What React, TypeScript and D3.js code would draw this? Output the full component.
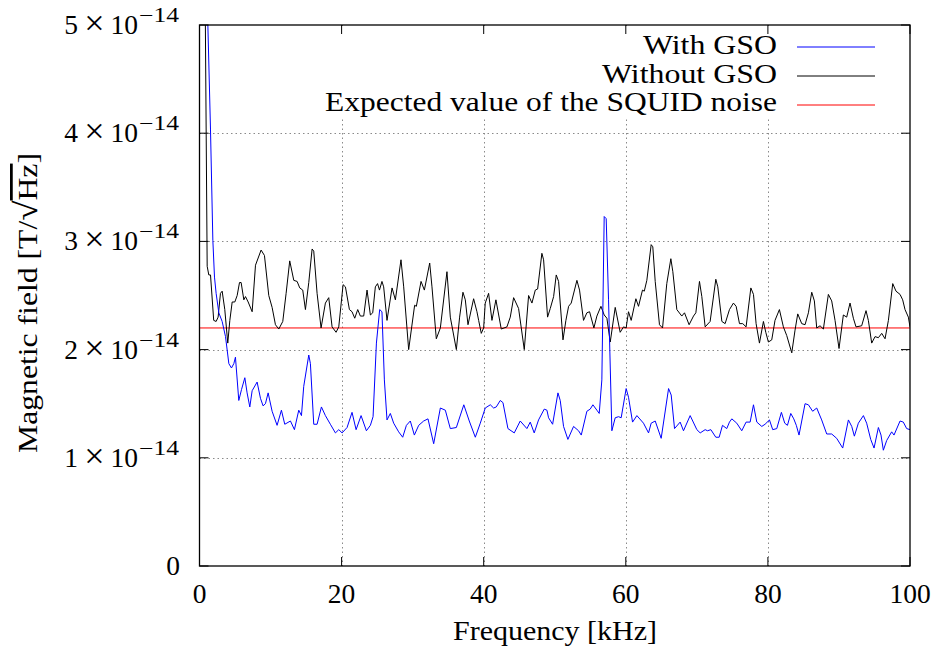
import React from "react";
import * as d3 from "d3";

const freqWith = [0.6, 1.1, 1.55, 1.88, 2.11, 2.34, 2.72, 3.19, 3.66, 4.13, 4.5, 4.83, 5.06, 5.53, 5.91, 6.38, 6.7, 7.08, 7.41, 8.11, 8.58, 8.95, 9.28, 9.66, 10.22, 10.92, 11.53, 12.0, 12.8, 13.36, 13.97, 14.35, 14.67, 15.38, 15.61, 16.08, 16.55, 17.16, 17.72, 18.42, 19.13, 19.6, 20.07, 20.77, 21.47, 22.04, 22.74, 23.49, 24.05, 24.43, 24.9, 25.36, 25.68, 26.02, 26.39, 26.86, 27.33, 28.03, 28.6, 29.12, 29.67, 30.24, 30.85, 31.55, 32.16, 32.96, 33.9, 34.6, 35.3, 36.15, 37.2, 37.97, 38.82, 39.52, 40.22, 40.93, 41.4, 41.77, 42.33, 42.71, 43.41, 44.3, 45.14, 46.08, 46.55, 47.11, 47.72, 48.52, 48.9, 49.13, 49.7, 50.45, 50.77, 51.24, 51.85, 52.65, 53.35, 53.73, 54.52, 54.99, 55.37, 55.93, 56.26, 56.63, 56.96, 57.24, 57.57, 58.04, 58.51, 58.98, 59.35, 60.05, 60.38, 60.95, 61.56, 62.49, 63.2, 63.57, 64.14, 64.98, 66.02, 66.39, 66.86, 67.65, 68.12, 69.06, 70.0, 70.47, 71.17, 71.5, 71.97, 72.67, 73.14, 73.61, 74.21, 74.59, 74.92, 75.62, 76.32, 76.93, 77.5, 77.97, 78.44, 79.14, 79.6, 80.22, 80.68, 81.25, 81.9, 82.37, 82.75, 83.22, 83.64, 84.0, 84.38, 85.23, 85.7, 86.3, 86.87, 87.57, 88.28, 88.98, 89.68, 90.53, 91.33, 91.8, 92.17, 92.73, 93.44, 93.9, 94.47, 94.94, 95.55, 95.92, 96.25, 96.72, 97.42, 97.75, 98.6, 99.06, 99.53, 100];
const valWith = [9.0, 5.2, 4.03, 3.01, 2.67, 2.52, 2.34, 2.26, 2.12, 1.87, 1.83, 1.87, 1.93, 1.53, 1.63, 1.74, 1.6, 1.47, 1.62, 1.7, 1.55, 1.48, 1.5, 1.6, 1.43, 1.3, 1.44, 1.31, 1.34, 1.26, 1.44, 1.39, 1.66, 1.95, 1.87, 1.31, 1.31, 1.47, 1.39, 1.31, 1.23, 1.26, 1.23, 1.28, 1.42, 1.26, 1.39, 1.25, 1.3, 1.38, 2.06, 2.37, 2.35, 1.72, 1.35, 1.41, 1.32, 1.24, 1.19, 1.3, 1.34, 1.21, 1.3, 1.34, 1.36, 1.13, 1.46, 1.44, 1.27, 1.28, 1.49, 1.34, 1.19, 1.32, 1.46, 1.49, 1.46, 1.47, 1.53, 1.51, 1.27, 1.23, 1.34, 1.27, 1.33, 1.23, 1.35, 1.45, 1.44, 1.37, 1.31, 1.6, 1.53, 1.29, 1.17, 1.29, 1.25, 1.21, 1.43, 1.45, 1.49, 1.44, 1.41, 1.72, 3.23, 3.21, 2.46, 1.25, 1.37, 1.38, 1.37, 1.64, 1.56, 1.33, 1.39, 1.32, 1.23, 1.32, 1.34, 1.18, 1.64, 1.58, 1.27, 1.33, 1.25, 1.39, 1.26, 1.23, 1.26, 1.25, 1.26, 1.19, 1.19, 1.3, 1.27, 1.33, 1.36, 1.32, 1.25, 1.33, 1.33, 1.49, 1.33, 1.29, 1.31, 1.35, 1.26, 1.27, 1.42, 1.32, 1.3, 1.41, 1.36, 1.3, 1.21, 1.5, 1.49, 1.43, 1.46, 1.35, 1.22, 1.22, 1.18, 1.09, 1.35, 1.29, 1.2, 1.32, 1.39, 1.32, 1.17, 1.09, 1.28, 1.21, 1.07, 1.16, 1.24, 1.21, 1.34, 1.33, 1.27, 1.26];

const freqWithout = [0.6, 1.08, 1.31, 1.55, 2.0, 2.34, 2.62, 2.95, 3.19, 3.56, 3.98, 4.27, 4.6, 4.97, 5.3, 5.63, 5.86, 6.24, 6.47, 6.85, 7.41, 7.88, 8.67, 9.14, 9.75, 10.22, 10.69, 11.16, 11.72, 12.19, 12.7, 13.27, 13.74, 14.11, 14.53, 14.91, 15.38, 15.85, 16.08, 16.55, 17.11, 17.72, 18.19, 18.66, 19.22, 19.6, 20.21, 20.54, 21.1, 21.47, 21.85, 22.27, 22.64, 23.11, 23.58, 24.05, 24.38, 24.75, 25.06, 25.33, 25.68, 25.92, 26.39, 27.1, 27.57, 28.36, 28.74, 29.44, 30.28, 30.52, 31.18, 31.65, 32.4, 32.72, 33.33, 33.9, 34.83, 35.3, 36.15, 36.61, 37.08, 37.41, 37.79, 38.58, 39.05, 39.29, 39.66, 39.99, 40.22, 40.69, 41.16, 41.72, 42.47, 43.27, 43.74, 44.21, 44.91, 45.71, 46.32, 46.79, 47.26, 47.59, 48.19, 48.43, 48.99, 49.37, 49.84, 50.21, 50.54, 51.16, 51.57, 51.95, 52.32, 53.12, 53.49, 54.05, 54.52, 54.9, 55.51, 55.93, 56.5, 56.96, 57.34, 57.81, 58.51, 59.21, 59.68, 60.05, 60.38, 60.76, 61.42, 61.79, 62.35, 62.6, 62.96, 63.57, 63.8, 64.14, 64.74, 65.17, 65.77, 66.34, 66.62, 67.18, 67.88, 68.26, 68.91, 69.53, 69.86, 70.37, 70.7, 71.17, 71.87, 72.67, 72.95, 73.52, 73.98, 74.59, 75.15, 75.53, 76.0, 76.46, 76.93, 77.6, 77.97, 78.34, 78.81, 79.37, 79.7, 80.07, 80.54, 81.0, 81.62, 82.18, 82.65, 83.36, 83.82, 84.2, 84.76, 85.23, 85.7, 86.17, 86.54, 86.87, 87.34, 87.81, 88.51, 88.98, 89.45, 90.01, 90.62, 91.09, 91.56, 92.03, 92.4, 93.2, 93.81, 94.14, 94.61, 95.08, 95.55, 96.02, 96.49, 96.96, 97.57, 98.03, 98.6, 98.97, 99.3, 99.77, 100];
const valWithout = [7.0, 2.77, 2.69, 2.69, 2.27, 2.26, 2.3, 2.52, 2.54, 2.37, 2.06, 2.27, 2.44, 2.44, 2.5, 2.62, 2.62, 2.46, 2.49, 2.44, 2.35, 2.78, 2.92, 2.87, 2.5, 2.39, 2.23, 2.19, 2.26, 2.52, 2.82, 2.64, 2.63, 2.57, 2.55, 2.37, 2.62, 2.93, 2.91, 2.52, 2.2, 2.43, 2.48, 2.21, 2.16, 2.21, 2.6, 2.58, 2.37, 2.35, 2.29, 2.37, 2.31, 2.31, 2.55, 2.32, 2.34, 2.58, 2.61, 2.55, 2.63, 2.58, 2.27, 2.57, 2.46, 2.83, 2.58, 2.0, 2.41, 2.4, 2.63, 2.55, 2.8, 2.58, 2.1, 2.2, 2.72, 2.3, 2.0, 2.3, 2.53, 2.46, 2.23, 2.47, 2.35, 2.27, 2.15, 2.2, 2.43, 2.52, 2.27, 2.46, 2.19, 2.21, 2.3, 2.48, 2.38, 2.0, 2.5, 2.43, 2.55, 2.56, 2.89, 2.83, 2.3, 2.38, 2.49, 2.69, 2.63, 2.09, 2.27, 2.4, 2.43, 2.64, 2.55, 2.27, 2.34, 2.35, 2.2, 2.31, 2.4, 2.32, 2.29, 2.07, 2.39, 2.16, 2.21, 2.2, 2.35, 2.27, 2.47, 2.4, 2.55, 2.54, 2.64, 2.97, 2.95, 2.63, 2.23, 2.2, 2.61, 2.84, 2.72, 2.37, 2.31, 2.34, 2.23, 2.31, 2.34, 2.63, 2.49, 2.21, 2.26, 2.65, 2.58, 2.26, 2.24, 2.37, 2.43, 2.4, 2.24, 2.24, 2.21, 2.57, 2.51, 2.24, 2.06, 2.26, 2.16, 2.07, 2.09, 2.27, 2.37, 2.21, 2.13, 1.97, 2.18, 2.33, 2.24, 2.23, 2.34, 2.53, 2.45, 2.2, 2.22, 2.19, 2.51, 2.45, 2.27, 2.01, 2.32, 2.3, 2.43, 2.29, 2.21, 2.22, 2.36, 2.27, 2.06, 2.12, 2.11, 2.15, 2.1, 2.27, 2.61, 2.54, 2.51, 2.46, 2.37, 2.3, 2.21];

const squidLevel = 2.2;
const xTicks = [0, 20, 40, 60, 80, 100];
const yTicks = [0, 1, 2, 3, 4, 5];
const yTickMantissa = ["0", "1", "2", "3", "4", "5"];
const legendLabels = ["With GSO", "Without GSO", "Expected value of the SQUID noise"];
const legendColors = ["#0000ff", "#000000", "#ff0000"];

const W = 936;
const H = 656;
const L = 199.5, R = 910, T = 25, B = 566;
const FONT = "'Liberation Serif', 'Times New Roman', serif";

export default function App() {
  const x = d3.scaleLinear().domain([0, 100]).range([L, R]);
  const y = d3.scaleLinear().domain([0, 5]).range([B, T]);

  const line = d3
    .line<[number, number]>()
    .x((d) => x(d[0]))
    .y((d) => y(d[1]));

  const withData: [number, number][] = freqWith.map((f, i) => [f, valWith[i]]);
  const withoutData: [number, number][] = freqWithout.map((f, i) => [f, valWithout[i]]);

  const gridColor = "#8a8a8a";
  const tickLen = 9;

  return (
    <svg
      width={W}
      height={H}
      style={{ position: "absolute", left: 0, top: 0, background: "#fff" }}
      fontFamily={FONT}
    >
      <defs>
        <clipPath id="plotClip">
          <rect x={L} y={T} width={R - L} height={B - T} />
        </clipPath>
      </defs>
      <rect x={0} y={0} width={W} height={H} fill="#fff" />

      {/* grid */}
      {yTicks
        .filter((t) => t > 0 && t < 5)
        .map((t) => (
          <line
            key={"gy" + t}
            x1={L}
            x2={R}
            y1={Math.round(y(t)) + 0.5}
            y2={Math.round(y(t)) + 0.5}
            stroke={gridColor}
            strokeWidth={1}
            strokeDasharray="1.5,3"
          />
        ))}
      {xTicks
        .filter((t) => t > 0 && t < 100)
        .map((t) => (
          <line
            key={"gx" + t}
            x1={Math.round(x(t)) + 0.5}
            x2={Math.round(x(t)) + 0.5}
            y1={T}
            y2={B}
            stroke={gridColor}
            strokeWidth={1}
            strokeDasharray="1.5,3"
          />
        ))}

      {/* legend background */}
      <rect x={318} y={T + 1} width={R - 318 - 1} height={118 - T - 1} fill="#fff" />

      {/* data */}
      <g clipPath="url(#plotClip)">
        <line
          x1={L}
          x2={R}
          y1={y(squidLevel)}
          y2={y(squidLevel)}
          stroke="#ff0000"
          strokeWidth={1}
        />
        <path d={line(withoutData) || ""} fill="none" stroke="#000" strokeWidth={1} />
        <path d={line(withData) || ""} fill="none" stroke="#0000ff" strokeWidth={1} />
      </g>

      {/* border */}
      <rect x={L} y={T} width={R - L} height={B - T} fill="none" stroke="#000" strokeWidth={1.3} />

      {/* ticks */}
      {yTicks.map((t) => (
        <g key={"ty" + t}>
          <line x1={L} x2={L + tickLen} y1={y(t)} y2={y(t)} stroke="#000" strokeWidth={1} />
          <line x1={R} x2={R - tickLen} y1={y(t)} y2={y(t)} stroke="#000" strokeWidth={1} />
        </g>
      ))}
      {xTicks.map((t) => (
        <g key={"tx" + t}>
          <line x1={x(t)} x2={x(t)} y1={B} y2={B - tickLen} stroke="#000" strokeWidth={1} />
          <line x1={x(t)} x2={x(t)} y1={T} y2={T + tickLen} stroke="#000" strokeWidth={1} />
        </g>
      ))}

      {/* y tick labels */}
      {yTicks.map((t, i) =>
        t === 0 ? (
          <text key={"yl" + t} x={180} y={y(t) + 9} fontSize={27.5} textAnchor="end">
            {yTickMantissa[i]}
          </text>
        ) : (
          <g key={"yl" + t}>
            <text x={71} y={y(t) + 9} fontSize={27.5} textAnchor="middle">
              {yTickMantissa[i]}
            </text>
            <text x={94.5} y={y(t) + 10} fontSize={36} textAnchor="middle">
              ×
            </text>
            <text x={138} y={y(t) + 9} fontSize={27.5} textAnchor="end">
              10
            </text>
            <text x={139} y={y(t) - 3} fontSize={20} textAnchor="start" textLength={40} lengthAdjust="spacingAndGlyphs">
              −14
            </text>
          </g>
        )
      )}

      {/* x tick labels */}
      {xTicks.map((t) => (
        <text key={"xl" + t} x={x(t)} y={603} fontSize={27.5} textAnchor="middle">
          {t}
        </text>
      ))}

      {/* axis titles */}
      <text
        x={555}
        y={640}
        fontSize={27.5}
        textAnchor="middle"
        textLength={204}
        lengthAdjust="spacingAndGlyphs"
      >
        Frequency [kHz]
      </text>
      <text
        transform={`translate(37, 303) rotate(-90)`}
        fontSize={27.5}
        textAnchor="middle"
        textLength={300}
        lengthAdjust="spacingAndGlyphs"
      >
        Magnetic field [T/<tspan fontSize={32}>√</tspan><tspan style={{ textDecoration: "overline" }}>Hz</tspan>]
      </text>

      {/* legend */}
      {legendLabels.map((lab, i) => {
        const widths = [134, 175, 452];
        const baseY = 54 + i * 28.7;
        const ly = 47 + i * 29;
        return (
          <g key={"lg" + i}>
            <text
              x={777}
              y={baseY}
              fontSize={27.5}
              textAnchor="end"
              textLength={widths[i]}
              lengthAdjust="spacingAndGlyphs"
            >
              {lab}
            </text>
            <line x1={797} x2={875} y1={ly} y2={ly} stroke={legendColors[i]} strokeWidth={1} />
          </g>
        );
      })}
    </svg>
  );
}
